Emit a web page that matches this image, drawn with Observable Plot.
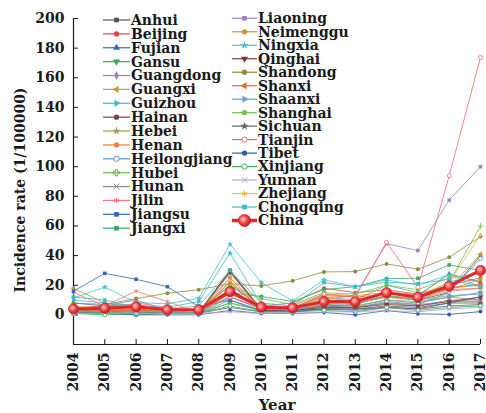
<!DOCTYPE html>
<html><head><meta charset="utf-8">
<script src="https://cdn.jsdelivr.net/npm/d3@7"></script>
<script src="https://cdn.jsdelivr.net/npm/@observablehq/plot@0.6"></script>
<style>body{margin:0;background:#fff}#chart{width:486px;height:413px}</style>
</head><body><div id="chart"></div>
<script>
const years = [2004,2005,2006,2007,2008,2009,2010,2011,2012,2013,2014,2015,2016,2017];
const yTicks = [0,20,40,60,80,100,120,140,160,180,200];

const anhui        = [3,2,4,2,2,30,4,3,6,7,13,10,15,40];
const beijing      = [5,6,7,4,3,20,6,8,18,15,17,14,20,25];
const fujian       = [8,6,5,4,3,17,5,4,10,9,15,13,27.6,22];
const gansu        = [2,1,1,1,1,8,3,3,7,6,10,8,12,15];
const guangdong    = [3,6,10,3,2,22,4,3,6,5,8,7,9,9];
const guangxi      = [18,8,5,3,3,25,4,4,10,8,12,10,18,41];
const guizhou      = [10,8,6,5,9,41.6,7,5,12,10,20,15,18,20];
const hainan       = [2,2,3,2,1,30,3,2,4,4,6,5,8,8];
const hebei        = [5,4,3,2,2,28,4,3,7,6,10,9,12,10];
const henan        = [4,3,3,2,2,12,4,4,14,13,15,14,17,18];
const heilongjiang = [2,2,2,1,1,10,2,3,6,5,9,7,15,38];
const hubei        = [1,1,1,1,1,8,3,3,8,8,12,12,22,60];
const hunan        = [4,3,3,2,2,18,3,3,5,5,8,6,10,10];
const jilin        = [15,6,16,9,1.5,25,4,3,8,8,12,10,16,18];
const jiangsu      = [16,28,24,19,5.6,10,3,3,4,3,5,4,8,12];
const jiangxi      = [3,1,0,1,1,15,12.4,9,17,19,24.5,24.7,33.7,30];
const liaoning     = [3,4,6,3,3,20,5,4,10,13.5,48,43.4,77.5,100];
const neimenggu    = [4,3,4,2,2,22,4,4,12,9,13,11,17,24];
const ningxia      = [11.4,18.7,8.3,7.4,11.2,47.7,21.8,9.4,23.6,19,23.6,20,27,19];
const qinghai      = [3,2,2,1,1,29,3,3,5,5,7,6,9,12];
const shandong     = [8,7,11,14.6,17,21,19.5,23,29,29.2,34.4,30.8,38.9,52.8];
const shanxi       = [3,3,3,2,2,14,5,5,13,12,14,13,18,21];
const shaanxi      = [2,2,2,2,1,12,4,3,9,8,13,10,13,14];
const shanghai     = [3,2,2,2,2,20,11,7,15,14,20,17,25,28];
const sichuan      = [1,1,1,1,1,5,2,2,4,4,5,4,6,7];
const tianjin      = [2,3,8,5,3,12,5,6,14,12,49,18.7,93.9,173.7];
const tibet        = [1,1,0,0,0,3,1,1,1.6,0,2.9,0.7,0.3,2.2];
const xinjiang     = [1,0,1,1,1,6,2,2,3,2,5,3,5,6];
const yunnan       = [1,1,1,1,1,2,1,1,2,2,3,2,4,5];
const zhejiang     = [6,4,5,3,2,23,5,4,11,10,16,13,22,54];
const chongqing    = [12,10,5,4,6,30,8,6,21.8,19,22,21,24,19];
const china        = [4,4.5,5.4,3.4,3.4,15.7,5.2,4.7,9,8.9,15,11.9,19.5,30];

const names = ["Anhui","Beijing","Fujian","Gansu","Guangdong","Guangxi","Guizhou","Hainan","Hebei","Henan","Heilongjiang","Hubei","Hunan","Jilin","Jiangsu","Jiangxi",
  "Liaoning","Neimenggu","Ningxia","Qinghai","Shandong","Shanxi","Shaanxi","Shanghai","Sichuan","Tianjin","Tibet","Xinjiang","Yunnan","Zhejiang","Chongqing","China"];
const values = [anhui,beijing,fujian,gansu,guangdong,guangxi,guizhou,hainan,hebei,henan,heilongjiang,hubei,hunan,jilin,jiangsu,jiangxi,
  liaoning,neimenggu,ningxia,qinghai,shandong,shanxi,shaanxi,shanghai,sichuan,tianjin,tibet,xinjiang,yunnan,zhejiang,chongqing,china];

// styles
const colors = ["#555555","#e8434a","#2c6fbb","#3aa860","#9b80c4","#c99a3c","#3dbdc0","#7a4848","#a39c5c","#f07f3a","#5b8fd0","#6cc24a","#8a8a8a","#f07a7a","#3468b8","#3aaa5e",
  "#9c84c4","#c9952e","#4cc4c4","#7d3a3a","#8f8f3a","#f0652a","#6a9ed8","#70c44c","#666666","#f06a6a","#2f5fa8","#3aaa5e","#b6a2d8","#e8b84a","#3ebcc4","#e3262b"];
const symbols = ["square","circle","triangle","triangle","diamond","triangle","triangle","hexagon","star","hexagon","circle","plus","times","asterisk","square","square",
  "square","circle","star","triangle","circle","triangle","triangle","hexagon","star","circle","circle","circle","times","asterisk","square","circle"];
const rotations = [0,0,0,180,0,-90,90,0,0,0,0,0,0,0,0,0, 0,0,0,180,0,-90,90,0,0,0,0,0,0,0,0,0];
const hollow = new Set(["Heilongjiang","Tianjin","Xinjiang"]);

const W = 486, H = 413, mL = 73, mR = 6, mT = 18, mB = 69;
const innerW = W - mL - mR, innerH = H - mT - mB;
const font = "'DejaVu Serif', serif";
const ink = "#1a1a1a";

const series = names.map((name, i) => ({name, color: colors[i], symbol: symbols[i], rotate: rotations[i],
  rows: years.map((year, j) => ({name, year, value: values[i][j]}))}));

const marks = [];
for (const s of series) {
  if (s.name === "China") continue;
  marks.push(Plot.line(s.rows, {x: "year", y: "value", stroke: s.color, strokeWidth: 0.9, strokeOpacity: 0.9}));
  marks.push(Plot.dot(s.rows, {x: "year", y: "value", symbol: s.symbol, r: 2, rotate: s.rotate,
    fill: hollow.has(s.name) ? "white" : s.color, stroke: hollow.has(s.name) ? s.color : (["plus","times","asterisk"].includes(s.symbol) ? s.color : "none"), strokeWidth: 0.8}));
}
const ch = series.find(s => s.name === "China");
marks.push(Plot.line(ch.rows, {x: "year", y: "value", stroke: ch.color, strokeWidth: 3}));
marks.push(Plot.dot(ch.rows, {x: "year", y: "value", r: 5, fill: "url(#ball)", stroke: "#d0181f", strokeWidth: 0.8}));

const chart = Plot.plot({
  width: W, height: H, marginLeft: mL, marginRight: mR, marginTop: mT, marginBottom: mB,
  style: {fontFamily: font, background: "white", color: ink},
  x: {domain: [2004, 2017], axis: null},
  y: {domain: [-20, 200], axis: null},
  marks: [
    Plot.ruleY([-20], {stroke: ink, strokeWidth: 1.2}),
    Plot.ruleX([2004], {stroke: ink, strokeWidth: 1.2}),
    Plot.tickX(years.slice(1), {x: d => d, insetTop: innerH - 5, stroke: ink}),
    Plot.tickY(yTicks, {y: d => d, insetRight: innerW - 5, stroke: ink}),
    Plot.axisX(years, {tickSize: 0, tickPadding: 8, tickRotate: -90, tickFormat: d => String(d), fontSize: 14, fontWeight: "bold", fontFamily: font, fill: ink, label: null}),
    Plot.axisY(yTicks, {tickSize: 0, tickPadding: 9, fontSize: 14, fontWeight: "bold", fontFamily: font, fill: ink, label: null}),
    Plot.text(["Year"], {frameAnchor: "bottom", dy: 65, lineAnchor: "bottom", fontSize: 15, fontWeight: "bold", fontFamily: font, fill: ink}),
    ...marks
  ]
});

const svg = d3.select(chart);
const defs = svg.insert("defs", ":first-child");
const grad = defs.append("radialGradient").attr("id", "ball").attr("cx", "40%").attr("cy", "40%").attr("r", "60%");
grad.append("stop").attr("offset", "0%").attr("stop-color", "#ffd0d0");
grad.append("stop").attr("offset", "55%").attr("stop-color", "#ef4a4a");
grad.append("stop").attr("offset", "100%").attr("stop-color", "#d0181f");

// y-axis title
svg.append("text").attr("transform", "translate(20,190) rotate(-90)").attr("text-anchor", "middle").attr("dy", "0.35em")
  .attr("font-family", font).attr("font-weight", "bold").attr("font-size", 14).attr("fill", ink)
  .text("Incidence rate (1/100000)");

// legend
const symMap = {square: d3.symbolSquare, circle: d3.symbolCircle, triangle: d3.symbolTriangle, diamond: d3.symbolDiamond,
  star: d3.symbolStar, hexagon: d3.symbolCircle, plus: d3.symbolCross, times: d3.symbolTimes, asterisk: d3.symbolAsterisk};
const leg = svg.append("g").attr("font-family", font).attr("font-weight", "bold").attr("font-size", 14)
  .attr("fill", ink).attr("text-anchor", "start");
series.forEach((s, i) => {
  const col = i < 16 ? 0 : 1, k = i % 16;
  const x0 = col ? 232 : 103, x1 = col ? 257 : 130;
  const y = col ? 18.3 + k * 13.48 : 20 + k * 13.88;
  const g = leg.append("g");
  const isChina = s.name === "China";
  g.append("line").attr("x1", x0).attr("x2", x1).attr("y1", y).attr("y2", y).attr("stroke", s.color).attr("stroke-width", isChina ? 3.5 : 1.2);
  const cx = (x0 + x1) / 2;
  if (isChina) {
    g.append("circle").attr("cx", cx).attr("cy", y).attr("r", 6).attr("fill", "url(#ball)").attr("stroke", "#d0181f").attr("stroke-width", 0.8);
  } else {
    const line = ["plus","times","asterisk"].includes(s.symbol);
    g.append("path").attr("d", d3.symbol(symMap[s.symbol], 22)())
      .attr("transform", `translate(${cx},${y}) rotate(${s.rotate})`)
      .attr("fill", hollow.has(s.name) ? "white" : (line ? "none" : s.color))
      .attr("stroke", hollow.has(s.name) || line ? s.color : "none").attr("stroke-width", 1);
  }
  g.append("text").attr("x", x1 + 1).attr("y", y).attr("dy", "0.35em").text(s.name);
});

document.getElementById("chart").append(chart);
</script>
</body></html>
